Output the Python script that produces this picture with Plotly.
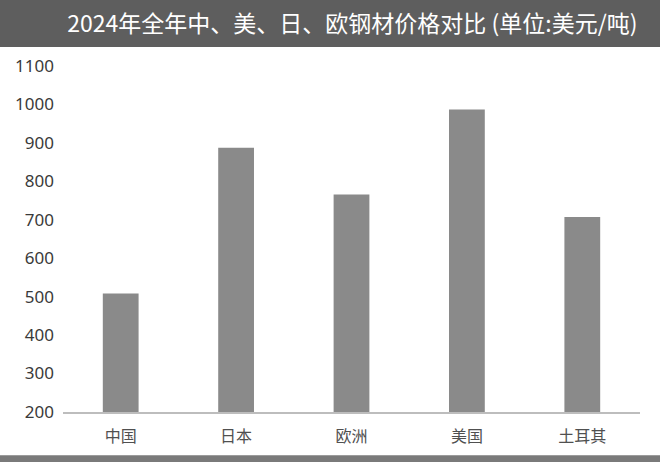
import plotly.graph_objects as go

# 2024 steel prices, USD per tonne
regions = ["中国", "日本", "欧洲", "美国", "土耳其"]
prices = [508, 887, 765, 986, 707]
y_ticks = [200, 300, 400, 500, 600, 700, 800, 900, 1000, 1100]

title_text = "2024年全年中、美、日、欧钢材价格对比 (单位:美元/吨)"

fig = go.Figure()
fig.add_trace(go.Bar(
    x=regions,
    y=prices,
    base=0,
    marker=dict(color="#8a8a8a", line=dict(width=0)),
    width=0.31,
))

fig.update_layout(
    width=660,
    height=462,
    margin=dict(l=63, r=20, t=58, b=50),
    paper_bgcolor="white",
    plot_bgcolor="white",
    showlegend=False,
    font=dict(family="Noto Sans CJK SC", color="#444444"),
    title=dict(
        text=title_text,
        xref="container", yref="container",
        x=0.102, xanchor="left",
        y=0.948, yanchor="middle",
        font=dict(family="Noto Sans CJK SC", size=23, color="white"),
    ),
    xaxis=dict(
        showgrid=False,
        showline=True,
        linecolor="#bdbdbd",
        linewidth=1.5,
        ticks="",
        tickfont=dict(size=16, color="#505050"),
        ticklabelstandoff=9,
    ),
    yaxis=dict(
        range=[200, 1120],
        tickvals=y_ticks,
        showgrid=False,
        zeroline=False,
        showline=False,
        ticks="",
        tickfont=dict(family="Noto Sans", size=17, color="#3a3a3a"),
        ticklabelstandoff=8,
    ),
    shapes=[
        # dark title band across the top
        dict(type="rect", xref="paper", yref="paper",
             x0=-0.12, x1=1.05, y0=1.031, y1=1.17,
             fillcolor="#5e5e5e", line=dict(width=0), layer="below"),
        # grey strip at the very bottom
        dict(type="rect", xref="paper", yref="paper",
             x0=-0.12, x1=1.05, y0=-0.141, y1=-0.122,
             fillcolor="#7a7a7a", line=dict(width=0), layer="below"),
    ],
)

# drop the default page margin so the figure sits at the window's corner
fig.write_html("out.html", config={"displayModeBar": False},
               post_script="document.body.style.margin='0';")
